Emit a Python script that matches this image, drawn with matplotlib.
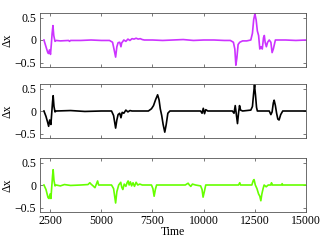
import matplotlib
matplotlib.use("Agg")
import matplotlib.pyplot as plt

plt.rcParams['font.family'] = ['Liberation Serif', 'DejaVu Serif']
plt.rcParams['font.size'] = 8.5

# Data
t_top = [2200, 2300, 2380, 2420, 2470, 2520, 2560, 2600, 2640, 2680, 2740, 2800,
         3000, 3400, 3450, 3500, 4000, 4500, 5000, 5400, 5550, 5620, 5700, 5760,
         5820, 5900, 5960, 6000, 6040, 6100, 6200, 6300, 6400, 6500, 6600, 6700,
         6800, 6900, 7000, 7100, 7500, 8000, 8500, 9000, 9500, 10000, 10500,
         11000, 11300, 11450, 11520, 11570, 11620, 11680, 11760, 11900, 12100,
         12300, 12380, 12440, 12500, 12560, 12620, 12680, 12740, 12800, 12860,
         12920, 12960, 13000, 13060, 13120, 13200, 13280, 13340, 13400, 13500,
         14000, 14500, 15000]
dx_top = [0.0, -0.15, -0.27, -0.3, -0.22, -0.32, -0.1, 0.15, 0.32, 0.1, -0.03, -0.01,
          -0.02, -0.01, -0.03, -0.01, -0.01, 0.0, -0.01, -0.01, -0.05, -0.2, -0.38, -0.15,
          -0.06, -0.05, -0.15, -0.06, -0.04, 0.0, -0.03, 0.02, -0.01, 0.03, 0.02, 0.04,
          0.02, 0.03, 0.01, 0.0, 0.0, -0.01, 0.0, 0.01, -0.01, 0.0, 0.0,
          -0.01, -0.01, -0.05, -0.2, -0.56, -0.4, -0.1, -0.05, -0.02, -0.02,
          0.0, 0.15, 0.45, 0.58, 0.45, 0.2, 0.1, -0.2, -0.15, -0.2,
          0.05, 0.1, -0.05, -0.15, -0.05, 0.0, -0.05, -0.28, -0.2, 0.0,
          0.0, -0.01, 0.0]

t_mid = [2200, 2300, 2380, 2430, 2480, 2540, 2580, 2620, 2650, 2690, 2740, 2800,
         3500, 4200, 5000, 5500, 5600, 5700, 5760, 5820, 5900, 5960, 6020, 6100,
         6200, 6300, 6400, 6500, 7300, 7450, 7550, 7650, 7750, 7820, 7880, 7950,
         8020, 8100, 8170, 8250, 8350, 9000, 9850, 9920, 9980, 10040, 10100,
         10200, 11000, 11400, 11480, 11540, 11600, 11650, 11700,
         11750, 11800, 11900, 12300, 12380, 12440, 12480, 12530, 12580, 12620,
         13200, 13280, 13340, 13400, 13440, 13500, 13560, 13620, 13680, 13760,
         13860, 14500, 15000]
dx_mid = [0.0, -0.12, -0.25, -0.34, -0.2, -0.3, -0.05, 0.2, 0.34, 0.1, -0.02, 0.0,
          0.01, -0.01, 0.0, 0.0, -0.1, -0.38, -0.2, -0.08, -0.05, -0.15, -0.03, -0.05,
          0.02, -0.02, 0.01, 0.0, 0.0, 0.05, 0.12, 0.25, 0.36, 0.25, 0.05, -0.1,
          -0.3, -0.47, -0.3, -0.05, 0.0, 0.0, 0.0, -0.05, 0.06, -0.06, 0.03,
          0.0, 0.0, 0.0, -0.05, 0.12, -0.1, -0.28, -0.05,
          0.12, 0.02, 0.0, 0.02, 0.1, 0.4, 0.58, 0.35, 0.08, 0.0,
          0.0, -0.08, -0.02, 0.18, 0.24, 0.12, -0.05, -0.18, -0.2, -0.08,
          0.0, 0.0, 0.0]

t_bot = [2200, 2300, 2400, 2450, 2500, 2540, 2580, 2620, 2650, 2690, 2740, 2800,
         3000, 3200, 3500, 4000, 4350, 4440, 4500, 4600, 4690, 4760, 4820, 4870,
         5000, 5500, 5600, 5700, 5760, 5850, 5950, 6000, 6050, 6120, 6200, 6260,
         6310, 6360, 6420, 6480, 6550, 6620, 6700, 6780, 6880, 7000, 7450, 7520,
         7580, 7640, 7700, 8500, 9100, 9240, 9300, 9370, 9450, 9600, 9850, 9920,
         9970, 10030, 10100, 11000, 11700, 11760, 11800, 12350, 12420, 12460,
         12520, 12600, 12680, 12740, 12790, 12840, 12900, 12950, 13050, 13150,
         13280, 13310, 13350, 13800, 13830, 13860, 14500, 15000]
dx_bot = [0.0, -0.1, -0.28, -0.3, -0.2, -0.3, -0.05, 0.2, 0.34, 0.1, -0.02, 0.0,
          -0.02, 0.01, -0.01, 0.0, 0.01, 0.05, 0.02, -0.02, -0.06, 0.02, 0.09, 0.0,
          0.0, 0.0, -0.08, -0.4, -0.15, 0.0, 0.06, -0.05, -0.1, 0.02, -0.03, 0.05,
          0.09, 0.0, 0.07, -0.02, 0.05, -0.03, 0.06, 0.0, 0.02, 0.0, 0.0, -0.08,
          -0.25, -0.1, 0.0, 0.0, 0.0, 0.04, 0.0, -0.03, 0.02, 0.0, -0.02, -0.1,
          -0.27, -0.15, 0.0, 0.0, 0.0, 0.05, 0.0, 0.0, 0.1, 0.12,
          0.0, -0.08, -0.2, -0.25, -0.35, -0.2, -0.08, 0.0, -0.04, 0.0,
          0.0, 0.05, 0.0, 0.0, 0.03, 0.0, 0.0, 0.0]

series = [(t_top, dx_top, '#cc33ff'), (t_mid, dx_mid, 'black'), (t_bot, dx_bot, '#66ff00')]
x_ticks = [2500, 5000, 7500, 10000, 12500, 15000]
y_ticks = [-0.5, 0, 0.5]

fig = plt.figure(figsize=(3.32, 2.5), dpi=100)
bottoms = [0.732, 0.448, 0.152]
axes = []
for (t, dx, col), b in zip(series, bottoms):
    ax = fig.add_axes([0.12, b, 0.802, 0.216])
    ax.plot(t, dx, color=col, lw=1.2)
    ax.set_xlim(2000, 15000)
    ax.set_ylim(-0.6, 0.6)
    ax.set_xticks(x_ticks)
    ax.set_yticks(y_ticks)
    ax.set_yticklabels(['\u22120.5', '0', '0.5'])
    ax.tick_params(direction='in', top=True, right=True, length=2.5, width=0.5,
                   colors='#444444', labelcolor='black', pad=2.5)
    for s in ax.spines.values():
        s.set_linewidth(0.6)
        s.set_color('#555555')
    ax.set_ylabel('\u0394x', labelpad=1)
    axes.append(ax)

for ax in axes[:-1]:
    ax.set_xticklabels([])
axes[-1].set_xlabel('Time', labelpad=-1)

fig.savefig('out.png', dpi=100)
